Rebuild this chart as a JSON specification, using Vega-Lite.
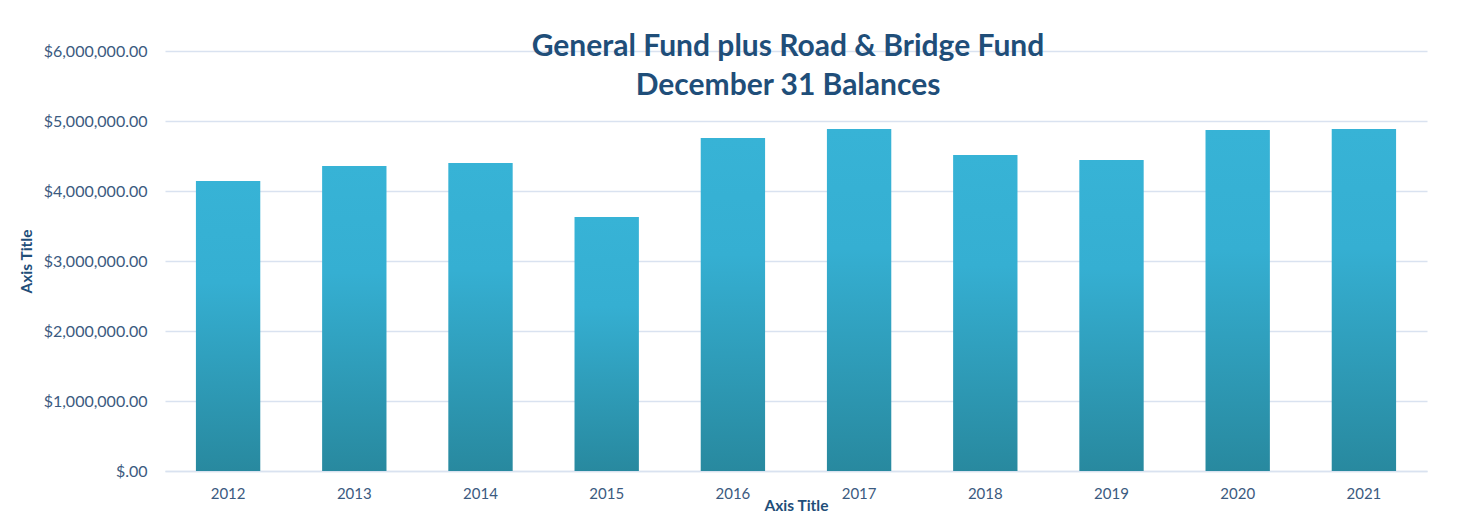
{
  "$schema": "https://vega.github.io/schema/vega-lite/v6.json",
  "autosize": "none",
  "width": 1262,
  "height": 420,
  "padding": {"left": 165, "top": 51, "right": 30, "bottom": 46},
  "background": "white",
  "data": {
    "values": [
      {"year": "2012", "balance": 4143000},
      {"year": "2013", "balance": 4357000},
      {"year": "2014", "balance": 4400000},
      {"year": "2015", "balance": 3629000},
      {"year": "2016", "balance": 4757000},
      {"year": "2017", "balance": 4886000},
      {"year": "2018", "balance": 4514000},
      {"year": "2019", "balance": 4443000},
      {"year": "2020", "balance": 4871000},
      {"year": "2021", "balance": 4886000}
    ]
  },
  "title": {
    "text": ["General Fund plus Road & Bridge Fund", "December 31 Balances"],
    "anchor": "middle",
    "orient": "top",
    "offset": -58,
    "dx": -8,
    "font": "Lato",
    "fontSize": 30,
    "fontWeight": "bold",
    "color": "#1f4e79",
    "lineHeight": 39
  },
  "mark": {
    "type": "bar",
    "color": {
      "gradient": "linear",
      "x1": 0, "y1": 0, "x2": 0, "y2": 1,
      "stops": [
        {"offset": 0, "color": "#37b3d6"},
        {"offset": 0.35, "color": "#35afd2"},
        {"offset": 1, "color": "#28899f"}
      ]
    }
  },
  "encoding": {
    "x": {
      "field": "year",
      "type": "ordinal",
      "scale": {"paddingInner": 0.49, "paddingOuter": 0.245},
      "axis": {
        "title": "Axis Title",
        "labelAngle": 0,
        "ticks": false,
        "domainColor": "#d9e2f0",
        "domainWidth": 1.5,
        "labelPadding": 15,
        "labelFont": "Lato",
        "labelFontSize": 15,
        "labelColor": "#3b5a80",
        "titleFont": "Lato",
        "titleFontSize": 15.5,
        "titleFontWeight": "bold",
        "titleColor": "#1f4e79",
        "titlePadding": -3
      }
    },
    "y": {
      "field": "balance",
      "type": "quantitative",
      "scale": {"domain": [0, 6000000]},
      "axis": {
        "title": "Axis Title",
        "values": [0, 1000000, 2000000, 3000000, 4000000, 5000000, 6000000],
        "labelExpr": "datum.value == 0 ? '$.00' : format(datum.value, '$,.2f')",
        "ticks": false,
        "domain": false,
        "grid": true,
        "gridColor": "#d9e2f0",
        "gridWidth": 1.5,
        "labelPadding": 18,
        "labelFont": "Lato",
        "labelFontSize": 16,
        "labelColor": "#3b5a80",
        "titleFont": "Lato",
        "titleFontSize": 15.5,
        "titleFontWeight": "bold",
        "titleColor": "#1f4e79",
        "titlePadding": 9
      }
    }
  },
  "config": {
    "view": {"stroke": null}
  }
}
